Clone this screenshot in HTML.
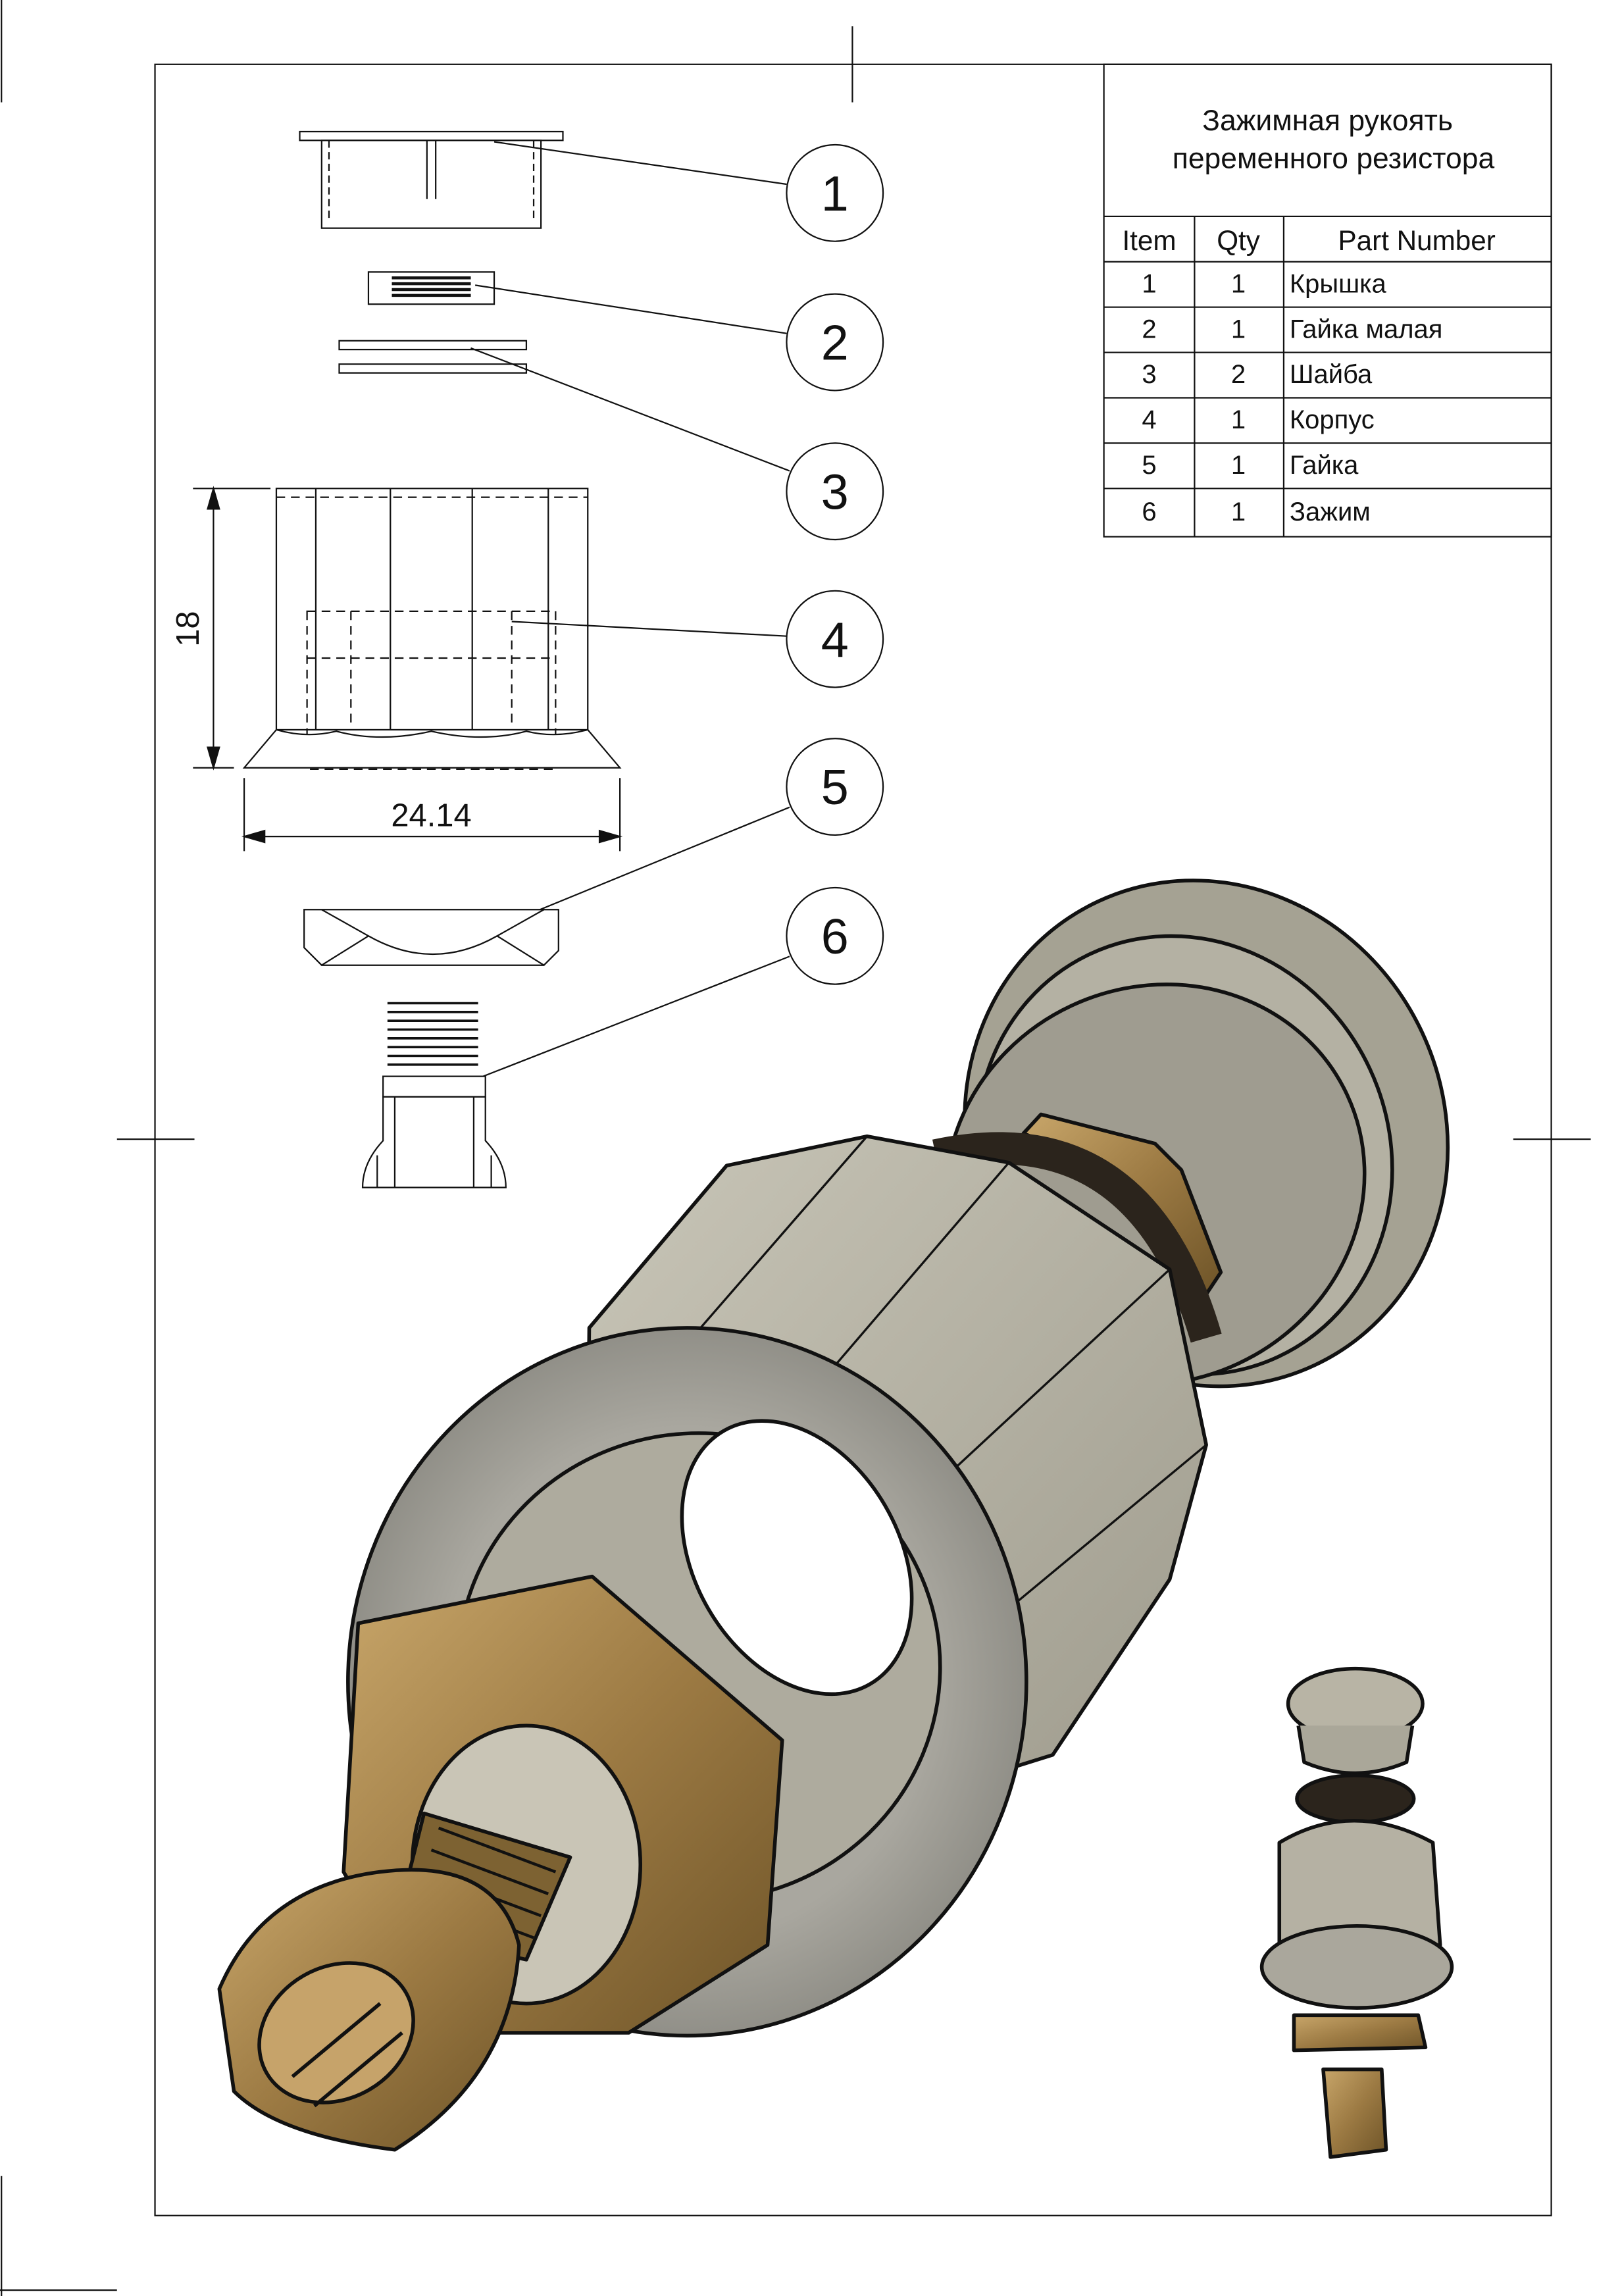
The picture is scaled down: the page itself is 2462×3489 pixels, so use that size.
<!DOCTYPE html>
<html><head><meta charset="utf-8"><style>
html,body{margin:0;padding:0;background:#fff}
svg{display:block}
text{font-family:"Liberation Sans","DejaVu Sans",sans-serif;fill:#111}
</style></head><body>
<svg width="2462" height="3489" viewBox="0 0 1108 1570" preserveAspectRatio="none" xmlns="http://www.w3.org/2000/svg">
<defs>
<linearGradient id="gray" x1="0" y1="0" x2="1" y2="1"><stop offset="0" stop-color="#c9c6b8"/><stop offset="1" stop-color="#9d9a8c"/></linearGradient>
<linearGradient id="brass" x1="0" y1="0" x2="1" y2="1"><stop offset="0" stop-color="#c8a66a"/><stop offset="0.5" stop-color="#9c7a43"/><stop offset="1" stop-color="#6e5428"/></linearGradient>
<radialGradient id="ring" cx="0.5" cy="0.5" r="0.6"><stop offset="0.6" stop-color="#a9a79f"/><stop offset="1" stop-color="#7f7e77"/></radialGradient>
</defs>
<g fill="none" stroke="#111" stroke-width="1">
<rect x="106" y="44" width="955" height="1471"/>
<line x1="583" y1="18" x2="583" y2="70"/>
<line x1="80" y1="779" x2="133" y2="779"/>
<line x1="1035" y1="779" x2="1088" y2="779"/>
<line x1="1" y1="0" x2="1" y2="70"/>
<line x1="1" y1="1488" x2="1" y2="1570"/>
<line x1="0" y1="1566" x2="80" y2="1566"/>
<rect x="755" y="44" width="306" height="323"/>
<line x1="755" y1="148" x2="1061" y2="148"/>
<line x1="755" y1="179" x2="1061" y2="179"/>
<line x1="755" y1="210" x2="1061" y2="210"/>
<line x1="755" y1="241" x2="1061" y2="241"/>
<line x1="755" y1="272" x2="1061" y2="272"/>
<line x1="755" y1="303" x2="1061" y2="303"/>
<line x1="755" y1="334" x2="1061" y2="334"/>
<line x1="817" y1="148" x2="817" y2="367"/>
<line x1="878" y1="148" x2="878" y2="367"/>
<circle cx="571" cy="132" r="33"/><circle cx="571" cy="234" r="33"/><circle cx="571" cy="336" r="33"/>
<circle cx="571" cy="437" r="33"/><circle cx="571" cy="538" r="33"/><circle cx="571" cy="640" r="33"/>
<line x1="338" y1="97" x2="538" y2="126"/>
<line x1="325" y1="195" x2="538" y2="228"/>
<line x1="322" y1="238" x2="540" y2="322"/>
<line x1="350" y1="425" x2="538" y2="435"/>
<line x1="340" y1="634" x2="540" y2="552"/>
<line x1="310" y1="744" x2="540" y2="654"/>
<rect x="205" y="90" width="180" height="6"/>
<rect x="220" y="96" width="150" height="60"/>
<line x1="292" y1="96" x2="292" y2="136"/><line x1="298" y1="96" x2="298" y2="136"/>
<line x1="225" y1="96" x2="225" y2="150" stroke-dasharray="5,3"/><line x1="365" y1="96" x2="365" y2="150" stroke-dasharray="5,3"/>
<rect x="252" y="186" width="86" height="22"/>
<path d="M268 190h54M268 194h54M268 198h54M268 202h54" stroke-width="2"/>
<rect x="232" y="233" width="128" height="6"/><rect x="232" y="249" width="128" height="6"/>
<rect x="189" y="334" width="213" height="165"/>
<line x1="216" y1="334" x2="216" y2="499"/><line x1="267" y1="334" x2="267" y2="499"/><line x1="323" y1="334" x2="323" y2="499"/><line x1="375" y1="334" x2="375" y2="499"/>
<g stroke-dasharray="6,4"><rect x="210" y="418" width="170" height="108"/><line x1="210" y1="450" x2="380" y2="450"/><line x1="240" y1="418" x2="240" y2="495"/><line x1="350" y1="418" x2="350" y2="495"/><line x1="189" y1="340" x2="402" y2="340"/></g>
<path d="M189 499 L167 525 H424 L402 499 Q380 505 360 500 Q330 508 295 500 Q260 508 230 500 Q210 505 189 499Z" fill="#fff"/>
<line x1="132" y1="334" x2="185" y2="334"/><line x1="132" y1="525" x2="160" y2="525"/>
<line x1="146" y1="334" x2="146" y2="525"/>
<path d="M146 334l-4 14h8z M146 525l-4 -14h8z" fill="#111"/>
<line x1="167" y1="532" x2="167" y2="582"/><line x1="424" y1="532" x2="424" y2="582"/>
<line x1="167" y1="572" x2="424" y2="572"/>
<path d="M167 572l14 -4v8z M424 572l-14 -4v8z" fill="#111"/>
<path d="M208 622 H382 V650 L372 660 H220 L208 648Z" fill="#fff"/>
<path d="M220 622 L252 640 L220 660 M372 622 L340 640 L372 660 M252 640 Q296 665 340 640"/>
<path d="M265 686h62M265 692h62M265 698h62M265 704h62M265 710h62M265 716h62M265 722h62M265 728h62" stroke-width="1.6"/>
<rect x="262" y="736" width="70" height="14" fill="#fff"/>
<path d="M262 750 V780 Q248 795 248 812 H346 Q346 795 332 780 V750Z" fill="#fff"/>
<path d="M270 750V812M324 750V812M258 790V812M336 790V812"/>
</g>
<g text-anchor="middle">
<text x="908" y="89" font-size="20" font-family="Liberation Mono">Зажимная рукоять</text>
<text x="912" y="115" font-size="20" font-family="Liberation Mono">переменного резистора</text>
<text x="786" y="171" font-size="19">Item</text><text x="847" y="171" font-size="19">Qty</text><text x="969" y="171" font-size="19">Part Number</text>
<text x="786" y="200" font-size="18">1</text><text x="847" y="200" font-size="18">1</text>
<text x="786" y="231" font-size="18">2</text><text x="847" y="231" font-size="18">1</text>
<text x="786" y="262" font-size="18">3</text><text x="847" y="262" font-size="18">2</text>
<text x="786" y="293" font-size="18">4</text><text x="847" y="293" font-size="18">1</text>
<text x="786" y="324" font-size="18">5</text><text x="847" y="324" font-size="18">1</text>
<text x="786" y="356" font-size="18">6</text><text x="847" y="356" font-size="18">1</text>
<text x="571" y="144" font-size="34">1</text><text x="571" y="246" font-size="34">2</text><text x="571" y="348" font-size="34">3</text>
<text x="571" y="449" font-size="34">4</text><text x="571" y="550" font-size="34">5</text><text x="571" y="652" font-size="34">6</text>
<text x="295" y="565" font-size="22">24.14</text>
<text x="0" y="0" font-size="22" transform="translate(136 430) rotate(-90)">18</text>
</g>
<g font-size="18"><text x="882" y="200">Крышка</text><text x="882" y="231">Гайка малая</text><text x="882" y="262">Шайба</text><text x="882" y="293">Корпус</text><text x="882" y="324">Гайка</text><text x="882" y="356">Зажим</text></g>
<g stroke="#111" stroke-width="2.5" stroke-linejoin="round">
<ellipse cx="825" cy="775" rx="163" ry="175" transform="rotate(-25 825 775)" fill="#a5a293"/>
<ellipse cx="810" cy="790" rx="140" ry="152" transform="rotate(-25 810 790)" fill="#b4b1a3"/>
<ellipse cx="790" cy="810" rx="145" ry="135" transform="rotate(-25 790 810)" fill="#9f9c90"/>
<path d="M700 775 L712 762 L790 782 L808 800 L835 870 L825 885 L795 860 L760 800Z" fill="url(#brass)"/>
<path d="M640 790 Q780 760 825 915" fill="none" stroke="#2b241c" stroke-width="22"/>
<path d="M403 908 L497 797 L593 777 L690 795 L800 868 L825 988 L800 1080 L720 1200 L560 1250 L400 1190Z" fill="url(#gray)"/>
<path d="M593 777 L460 930 M690 795 L570 935 M800 868 L625 1030 M825 988 L690 1100" fill="none" stroke-width="1.5"/>
<ellipse cx="470" cy="1150" rx="232" ry="242" fill="url(#ring)"/>
<ellipse cx="478" cy="1140" rx="165" ry="160" fill="#aeab9e"/>
<ellipse cx="545" cy="1065" rx="70" ry="100" transform="rotate(-30 545 1065)" fill="#fff"/>
<path d="M245 1110 L405 1078 L535 1190 L525 1330 L430 1390 L300 1390 L235 1280Z" fill="url(#brass)"/>
<ellipse cx="360" cy="1275" rx="78" ry="95" fill="#c9c5b6"/>
<path d="M290 1240 L390 1270 L360 1340 L270 1320Z" fill="#7d6232"/>
<path d="M300 1250 L380 1280 M295 1265 L375 1295 M290 1280 L370 1310 M285 1295 L365 1325" fill="none" stroke-width="2"/>
<path d="M150 1360 Q180 1290 260 1280 Q340 1270 355 1330 Q350 1420 270 1470 Q190 1460 160 1430Z" fill="url(#brass)"/>
<ellipse cx="230" cy="1390" rx="55" ry="45" transform="rotate(-30 230 1390)" fill="#c6a36a"/>
<path d="M200 1420 L260 1370 M215 1440 L275 1390" fill="none"/>
<ellipse cx="927" cy="1165" rx="46" ry="24" fill="#b8b4a5"/>
<path d="M888 1180 L892 1205 Q927 1220 962 1205 L966 1180" fill="#aaa799"/>
<ellipse cx="927" cy="1230" rx="40" ry="16" fill="#2b241c"/>
<path d="M875 1260 Q925 1230 980 1260 L985 1330 Q930 1350 875 1330Z" fill="#b5b1a3"/>
<ellipse cx="928" cy="1345" rx="65" ry="28" fill="#aaa79c"/>
<path d="M885 1378 L970 1378 L975 1400 L885 1402Z" fill="url(#brass)"/>
<path d="M905 1415 L945 1415 L948 1470 L910 1475Z" fill="url(#brass)"/>
</g>
</svg>
</body></html>
